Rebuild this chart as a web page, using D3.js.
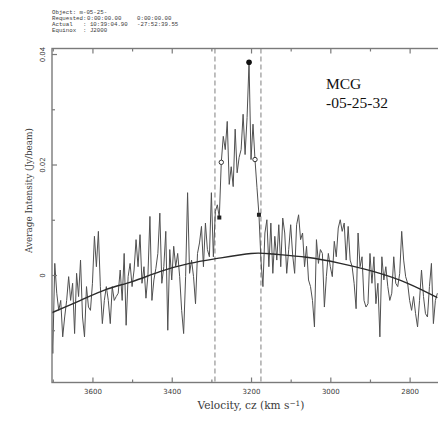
<!DOCTYPE html>
<html>
<head>
<meta charset="utf-8">
<script src="https://cdn.jsdelivr.net/npm/d3@7"></script>
<style>
  body { margin: 0; background: #fff; }
  svg { display: block; }
</style>
</head>
<body>
<svg id="chart" width="438" height="428"></svg>
<script>
// Spectrum channel grid (km/s): first channel velocity and channel width
const firstChannelVel = 3705;
const channelWidth = 5;

// Average intensity per channel (Jy/beam), high to low velocity
const fluxLow = [
  -0.0046, -0.0142, 0.0021, -0.0033, -0.0064, -0.0046, -0.0112, -0.0076, -0.0046, -0.0003,
  -0.0046, -0.0015, -0.0106, 0.0003, -0.0039, 0.0027, -0.0076, -0.0112, -0.0021, -0.0058,
  -0.0064, -0.0015, 0.0070, 0.0015, 0.0079, -0.0021, -0.0088, -0.0046, -0.0021, -0.0046,
  -0.0088, -0.0021, -0.0046, -0.0039, -0.0033, 0.0009, -0.0046, 0.0039, -0.0091, -0.0003,
  0.0021, -0.0021, 0.0009, 0.0064, 0.0015, 0.0073, -0.0015, 0.0015, -0.0042, 0.0000,
  0.0106, -0.0046, -0.0009, 0.0012, 0.0039, 0.0112, -0.0015, 0.0015, 0.0079, -0.0100,
  0.0046, -0.0009, 0.0052, 0.0015, 0.0039, -0.0003, -0.0064, -0.0106, -0.0003, 0.0149,
  0.0003, 0.0027, -0.0003, -0.0052, 0.0039, 0.0058, 0.0088, 0.0015, 0.0094, 0.0046,
  0.0033, 0.0149, 0.0033
];
const fluxLine = [
  0.0115, 0.0127, 0.0104, 0.0204, 0.0251, 0.0227, 0.0278, 0.0164, 0.0196, 0.0160,
  0.0264, 0.0185, 0.0213, 0.0227, 0.0291, 0.0218, 0.0285, 0.0385, 0.0209, 0.0273,
  0.0209, 0.0158, 0.0109
];
const fluxHigh = [
  0.0027, -0.0021, 0.0076, 0.0100, 0.0015, 0.0094, 0.0003, 0.0070, 0.0027, 0.0091,
  0.0015, 0.0103, 0.0076, 0.0003, 0.0046, 0.0091, 0.0036, 0.0003, 0.0091, 0.0109,
  0.0064, 0.0076, 0.0015, 0.0052, -0.0009, -0.0021, -0.0046, -0.0094, 0.0064, 0.0021,
  0.0046, 0.0039, -0.0058, -0.0003, 0.0039, 0.0015, -0.0003, 0.0061, 0.0033, 0.0085,
  0.0100, 0.0079, 0.0094, 0.0027, 0.0088, 0.0027, 0.0015, -0.0015, -0.0061, 0.0076,
  0.0015, 0.0033, -0.0046, -0.0058, -0.0052, 0.0039, -0.0015, 0.0033, -0.0052, -0.0015,
  -0.0112, 0.0033, -0.0009, 0.0015, -0.0021, -0.0046, -0.0033, 0.0033, -0.0015, -0.0021,
  0.0003, 0.0079, 0.0027, -0.0003, -0.0015, -0.0046, -0.0064, -0.0039, -0.0070, -0.0094,
  -0.0046, 0.0009, -0.0039, -0.0070, -0.0076, -0.0021, 0.0021, -0.0088, -0.0046, -0.0033
];

// Fitted baseline, sampled at a few velocities
const baseVel  = [3705, 3630, 3565, 3500, 3430, 3355, 3285, 3200, 3145, 3060, 2975, 2890, 2805, 2730];
const baseFlux = [-0.0069, -0.0046, -0.0026, -0.0012, 0.0006, 0.0021, 0.0030, 0.0039, 0.0038, 0.0032, 0.0021, 0.0006, -0.0015, -0.0041];

// Line window edges (km/s)
const windowVel = [3291, 3175];

// Width markers: peak, 50% and 20% levels
const peakVel = [3205],        peakFlux = [0.0385];
const halfVel = [3275, 3190],  halfFlux = [0.0204, 0.0209];
const fifthVel = [3280, 3180], fifthFlux = [0.0104, 0.0109];

// Axis ticks
const xMajorTicks = [3600, 3400, 3200, 3000, 2800];
const xMinorTicks = [3700, 3500, 3300, 3100, 2900];
const yMajorTicks = [0.04, 0.02, 0];
const yMinorTicks = [0.03, 0.01, -0.01];
const yTickLabels = ["0.04", "0.02", "0"];

// Header block
const headerKeys   = ["Object: m-05-25-", "Requested:", "Actual", "Equinox"];
const headerValues = ["", "0:00:00.00", ": 10:39:04.90", ": J2000"];
const headerSecond = ["", "0:00:00.00", "-27:52:39.55", ""];

const galaxyName = ["MCG", "-05-25-32"];

const flux = fluxLow.concat(fluxLine, fluxHigh);
const spectrum = flux.map((f, i) => ({ v: firstChannelVel - i * channelWidth, f }));

const svg = d3.select("#chart");
const frame = { left: 52, right: 445.3, top: 48.5, bottom: 382.5 };

const x = d3.scaleLinear().domain([3702, 2710]).range([frame.left, frame.right]);
const y = d3.scaleLinear().domain([-0.01946, 0.04100]).range([frame.bottom, frame.top]);

const frameColor = "#7a7a7a";
const textColor = "#3a3a3a";

// scale a text element's font so that it spans the given width
function fitWidth(sel, width) {
  const node = sel.node();
  const size = parseFloat(sel.style("font-size"));
  const w = node.getComputedTextLength();
  const next = w > 0 ? size * width / w : size;
  sel.style("font-size", next.toFixed(2) + "px");
  return next;
}

svg.append("defs").append("clipPath").attr("id", "plotClip")
  .append("rect").attr("x", frame.left).attr("y", frame.top)
  .attr("width", frame.right - frame.left).attr("height", frame.bottom - frame.top);

const plotArea = svg.append("g").attr("clip-path", "url(#plotClip)");

// window edges
plotArea.selectAll("line.window").data(windowVel).join("line")
  .attr("class", "window")
  .attr("x1", d => x(d)).attr("x2", d => x(d))
  .attr("y1", frame.top).attr("y2", frame.bottom)
  .attr("stroke", "#8a8a8a").attr("stroke-width", 1.1)
  .attr("stroke-dasharray", "5,3");

// spectrum
plotArea.append("path")
  .datum(spectrum)
  .attr("fill", "none")
  .attr("stroke", "#505050")
  .attr("stroke-width", 1)
  .attr("stroke-linejoin", "round")
  .attr("d", d3.line().x(d => x(d.v)).y(d => y(d.f)));

// baseline fit
plotArea.append("path")
  .datum(baseVel.map((v, i) => ({ v, f: baseFlux[i] })))
  .attr("fill", "none")
  .attr("stroke", "#2a2a2a")
  .attr("stroke-width", 1.4)
  .attr("d", d3.line().curve(d3.curveNatural).x(d => x(d.v)).y(d => y(d.f)));

// markers
plotArea.selectAll("rect.fifth").data(fifthVel).join("rect")
  .attr("class", "fifth")
  .attr("x", d => x(d) - 2).attr("y", (d, i) => y(fifthFlux[i]) - 2)
  .attr("width", 4).attr("height", 4).attr("fill", "#222");
plotArea.selectAll("circle.half").data(halfVel).join("circle")
  .attr("class", "half")
  .attr("cx", d => x(d)).attr("cy", (d, i) => y(halfFlux[i]))
  .attr("r", 2.2).attr("fill", "#fff").attr("stroke", "#333").attr("stroke-width", 1);
plotArea.selectAll("circle.peak").data(peakVel).join("circle")
  .attr("class", "peak")
  .attr("cx", d => x(d)).attr("cy", (d, i) => y(peakFlux[i]))
  .attr("r", 2.8).attr("fill", "#111");

// frame
svg.append("rect")
  .attr("x", frame.left).attr("y", frame.top)
  .attr("width", frame.right - frame.left).attr("height", frame.bottom - frame.top)
  .attr("fill", "none").attr("stroke", frameColor).attr("stroke-width", 1.4);

function styleAxis(g) {
  g.select(".domain").remove();
  g.selectAll(".tick line").attr("stroke", frameColor).attr("stroke-width", 1.2);
  g.selectAll("text").attr("fill", textColor)
    .style("font-family", "'DejaVu Sans', sans-serif").style("font-size", "7px");
}

// bottom axis
svg.append("g").attr("transform", `translate(0,${frame.bottom})`)
  .call(d3.axisBottom(x).tickValues(xMajorTicks).tickSize(-5).tickPadding(7)
    .tickFormat(d3.format("d")))
  .call(styleAxis);
svg.append("g").attr("transform", `translate(0,${frame.bottom})`)
  .call(d3.axisBottom(x).tickValues(xMinorTicks).tickSize(-3).tickFormat(""))
  .call(styleAxis);

// top axis
svg.append("g").attr("transform", `translate(0,${frame.top})`)
  .call(d3.axisTop(x).tickValues(xMajorTicks).tickSize(-5).tickFormat(""))
  .call(styleAxis);
svg.append("g").attr("transform", `translate(0,${frame.top})`)
  .call(d3.axisTop(x).tickValues(xMinorTicks).tickSize(-3).tickFormat(""))
  .call(styleAxis);

// left axis with rotated labels
const yAxisG = svg.append("g").attr("transform", `translate(${frame.left},0)`)
  .call(d3.axisLeft(y).tickValues(yMajorTicks).tickSize(-5)
    .tickFormat((d, i) => yTickLabels[i]))
  .call(styleAxis);
yAxisG.selectAll("text")
  .attr("transform", "rotate(-90)")
  .attr("x", 0).attr("y", -7.5).attr("dy", "0")
  .attr("text-anchor", "middle");
svg.append("g").attr("transform", `translate(${frame.left},0)`)
  .call(d3.axisLeft(y).tickValues(yMinorTicks).tickSize(-3).tickFormat(""))
  .call(styleAxis);

// axis titles
const xTitle = svg.append("text")
  .attr("x", 251).attr("y", 409)
  .attr("text-anchor", "middle")
  .attr("fill", textColor)
  .style("font-family", "'DejaVu Serif', serif").style("font-size", "9px");
xTitle.append("tspan").text("Velocity, cz (km s");
xTitle.append("tspan").attr("dy", -3.5).style("font-size", "0.7em").text("\u22121");
xTitle.append("tspan").attr("dy", 3.5).text(")");
fitWidth(xTitle, 107);

const yTitle = svg.append("text")
  .attr("transform", "translate(32,190.5) rotate(-90)")
  .attr("text-anchor", "middle")
  .attr("fill", textColor)
  .style("font-family", "'DejaVu Serif', serif").style("font-size", "9px")
  .text("Average Intensity (Jy/beam)");
fitWidth(yTitle, 125);

// header block: narrow monospaced lines, widened horizontally
const headerY = [14.4, 20.2, 26.0, 31.8];
const headerStretch = 1.15;
const header = svg.append("g")
  .attr("fill", textColor)
  .style("font-family", "'Liberation Mono', 'DejaVu Sans Mono', monospace")
  .style("font-size", "5px");
function headerText(str, hx, hy) {
  header.append("text")
    .attr("transform", `translate(${hx},${hy}) scale(${headerStretch},1)`)
    .text(str);
}
headerKeys.forEach((k, i) => {
  headerText(k, 52, headerY[i]);
  if (headerValues[i]) headerText(headerValues[i], headerValues[i].startsWith(":") ? 83 : 87, headerY[i]);
  if (headerSecond[i]) headerText(headerSecond[i], 137, headerY[i]);
});

// galaxy name
svg.selectAll("text.name").data(galaxyName).join("text")
  .attr("class", "name")
  .attr("x", 326).attr("y", (d, i) => 89 + i * 19)
  .attr("fill", "#111")
  .style("font-family", "'Liberation Serif', 'Times New Roman', serif").style("font-size", "15.5px")
  .text(d => d);
</script>
</body>
</html>
